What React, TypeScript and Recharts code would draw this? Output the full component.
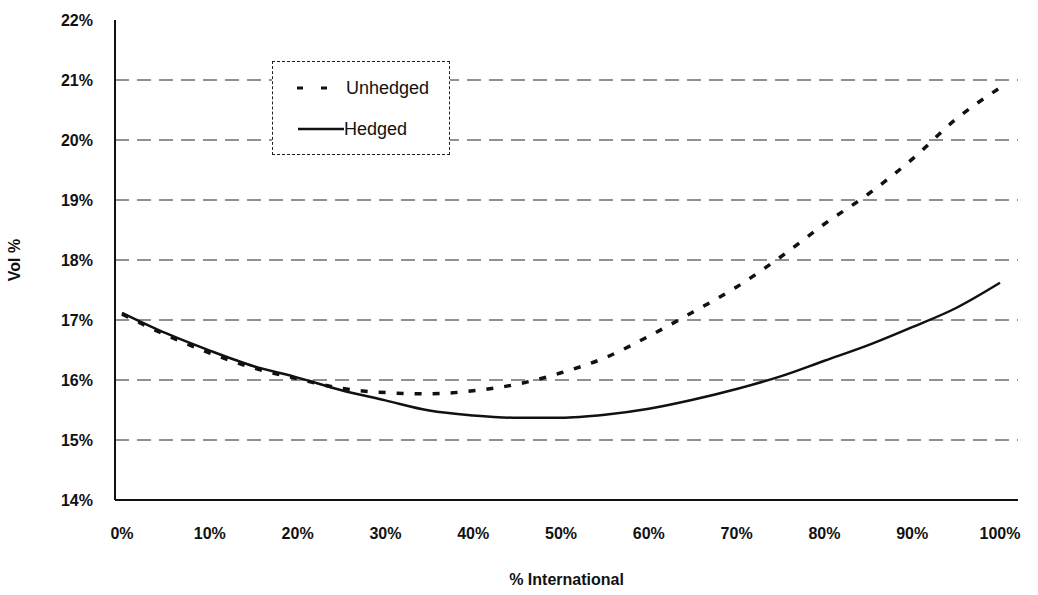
import React from "react";
import { LineChart, Line, XAxis, YAxis, CartesianGrid, Legend } from "recharts";

const pctInternational = [0, 5, 10, 15, 20, 25, 30, 35, 40, 45, 50, 55, 60, 65, 70, 75, 80, 85, 90, 95, 100];
const unhedgedVol = [17.1, 16.75, 16.45, 16.2, 16.02, 15.86, 15.79, 15.77, 15.82, 15.93, 16.12, 16.37, 16.73, 17.13, 17.55, 18.05, 18.6, 19.1, 19.68, 20.35, 20.87];
const hedgedVol = [17.12, 16.78, 16.49, 16.23, 16.04, 15.83, 15.66, 15.49, 15.41, 15.37, 15.37, 15.42, 15.52, 15.67, 15.85, 16.06, 16.32, 16.58, 16.88, 17.2, 17.62];
const xTicks = [0, 10, 20, 30, 40, 50, 60, 70, 80, 90, 100];
const yTicks = [14, 15, 16, 17, 18, 19, 20, 21, 22];
const gridValues = [15, 16, 17, 18, 19, 20, 21];

const data = pctInternational.map((p, i) => ({ p, unhedged: unhedgedVol[i], hedged: hedgedVol[i] }));

const FONT = "'Liberation Sans', Arial, sans-serif";

const LegendBox = () => (
  <div
    style={{
      width: 178,
      height: 94,
      border: "1px dashed #222",
      boxSizing: "border-box",
      background: "#fff",
      fontFamily: FONT,
      fontSize: 18,
      color: "#111",
      position: "relative",
    }}
  >
    <div style={{ position: "absolute", left: 22, top: 14, height: 24, display: "flex", alignItems: "center", whiteSpace: "nowrap" }}>
      <svg width={40} height={10}>
        <line x1={2} y1={5} x2={38} y2={5} stroke="#111" strokeWidth={3} strokeDasharray="6 18" />
      </svg>
      <span style={{ marginLeft: 11 }}>Unhedged</span>
    </div>
    <div style={{ position: "absolute", left: 25, top: 55, height: 24, display: "flex", alignItems: "center", whiteSpace: "nowrap" }}>
      <svg width={46} height={10}>
        <line x1={0} y1={5} x2={46} y2={5} stroke="#111" strokeWidth={2.5} />
      </svg>
      <span>Hedged</span>
    </div>
  </div>
);

export default function App() {
  return (
    <div style={{ position: "absolute", left: 0, top: 0, background: "#fff" }}>
      <LineChart width={1038} height={595} data={data} margin={{ top: 20, right: 20, bottom: 0, left: 0 }}>
        <CartesianGrid vertical={false} stroke="#222" strokeDasharray="14 8" strokeWidth={1} horizontalValues={gridValues} />
        <XAxis
          dataKey="p"
          type="number"
          domain={[0, 100]}
          ticks={xTicks}
          padding={{ left: 7, right: 18 }}
          tickFormatter={(v) => `${v}%`}
          tickLine={false}
          tickMargin={22}
          height={95}
          axisLine={{ stroke: "#111", strokeWidth: 2 }}
          tick={{ fill: "#111", fontSize: 16, fontWeight: "bold", fontFamily: FONT }}
          label={{ value: "% International", position: "insideTop", offset: 74, fill: "#111", fontSize: 16, fontWeight: "bold", fontFamily: FONT }}
        />
        <YAxis
          domain={[14, 22]}
          ticks={yTicks}
          tickFormatter={(v) => `${v}%`}
          tickLine={false}
          tickMargin={16}
          width={115}
          axisLine={{ stroke: "#111", strokeWidth: 2 }}
          tick={{ fill: "#111", fontSize: 16, fontWeight: "bold", fontFamily: FONT }}
          label={{ value: "Vol %", angle: -90, position: "insideLeft", offset: 14, fill: "#111", fontSize: 16, fontWeight: "bold", fontFamily: FONT, style: { textAnchor: "middle" } }}
        />
        <YAxis yAxisId="right" orientation="right" width={0} domain={[14, 22]} tick={false} tickLine={false} axisLine={{ stroke: "#111", strokeWidth: 1, strokeDasharray: "20 6" }} />
        <Legend
          layout="vertical"
          align="center"
          verticalAlign="middle"
          content={<LegendBox />}
          wrapperStyle={{ left: 272, top: 61, width: 178, height: 94 }}
        />
        <Line type="monotone" dataKey="unhedged" stroke="#111" strokeWidth={3.5} strokeDasharray="7 11" dot={false} isAnimationActive={false} />
        <Line type="monotone" dataKey="hedged" stroke="#111" strokeWidth={2.5} dot={false} isAnimationActive={false} />
      </LineChart>
    </div>
  );
}
